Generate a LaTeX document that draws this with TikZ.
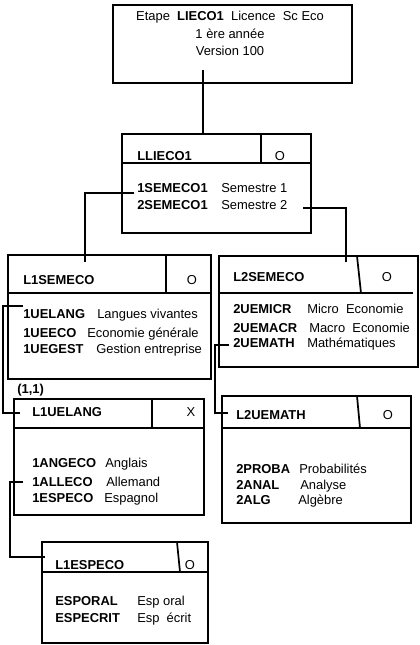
\documentclass[tikz,border=0pt]{standalone}
\usepackage{fontspec}
\setmainfont{Liberation Sans}
\begin{document}
\begin{tikzpicture}[x=0.75pt,y=-0.75pt]
\tikzset{
  frame/.style={draw=black,line width=1.3pt},
  wire/.style={draw=black,line width=1.3pt},
  txt/.style={anchor=west,inner sep=0pt,text height=7pt,text depth=0pt,font=\fontsize{9.7}{11}\selectfont},
  code/.style={txt,font=\fontsize{9.7}{11}\selectfont\bfseries},
  ctr/.style={txt,anchor=center},
}
\useasboundingbox[fill=white] (0,0) rectangle (420,645);

% ---------- top box ----------
\draw[frame] (113,5) rectangle (352,83);
\node[ctr] (t1) at (230,16) {Etape\ \ \textbf{LIECO1}\ \ Licence\ \ Sc Eco};
\node[ctr] (t2) at (230,34) {1 ère année};
\node[ctr] (t3) at (230,51) {Version 100};
\coordinate (topout) at (203,70);

% ---------- LLIECO1 ----------
\draw[frame] (122,134) rectangle (311,233);
\draw[frame] (122,163) -- (311,163);
\draw[frame] (261,134) -- (261,163);
\coordinate (llin) at (203,134);
\node[code] (ll) at (137,156) {LLIECO1};
\node[ctr] (llo) at (280,156) {O};
\node[code] (s1c) at (137,188) {1SEMECO1};
\node[txt] (s1d) at (221,188) {Semestre 1};
\node[code] (s2c) at (137,205) {2SEMECO1};
\node[txt] (s2d) at (221,205) {Semestre 2};
\coordinate (s1out) at (134,193);
\coordinate (s2out) at (303,208);

% ---------- L1SEMECO ----------
\draw[frame] (8,255) rectangle (211,379);
\draw[frame] (8,293) -- (211,293);
\draw[frame] (166,255) -- (166,293);
\coordinate (l1in) at (85,262);
\node[code] (l1) at (23,280) {L1SEMECO};
\node[ctr] (l1o) at (192,280) {O};
\node[code] (u1c) at (23,314) {1UELANG};
\node[txt] (u1d) at (97,314) {Langues vivantes};
\node[code] (u2c) at (23,333) {1UEECO};
\node[txt] (u2d) at (87,333) {Economie générale};
\node[code] (u3c) at (23,349) {1UEGEST};
\node[txt] (u3d) at (96,349) {Gestion entreprise};
\coordinate (u1out) at (23,306);

% ---------- L2SEMECO ----------
\draw[frame] (219,256) rectangle (418,367);
\draw[frame] (219,293) -- (413,293);
\draw[frame] (357,256) -- (361,293);
\coordinate (l2in) at (346,262);
\node[code] (l2) at (233,277) {L2SEMECO};
\node[ctr] (l2o) at (387,277) {O};
\node[code] (m1c) at (233,309) {2UEMICR};
\node[txt] (m1d) at (307,309) {Micro\ \ Economie};
\node[code] (m2c) at (233,328) {2UEMACR};
\node[txt] (m2d) at (309,328) {Macro\ \ Economie};
\node[code] (m3c) at (233,343) {2UEMATH};
\node[txt] (m3d) at (307,343) {Mathématiques};
\coordinate (m3out) at (229,345);

% ---------- L1UELANG ----------
\draw[frame] (14,399) rectangle (204,515);
\draw[frame] (14,428) -- (204,428);
\draw[frame] (152,399) -- (152,428);
\coordinate (lgin) at (20,413);
\node[code] (card) at (17,389) {(1,1)};
\node[code] (lg) at (32,412) {L1UELANG};
\node[ctr] (lgx) at (191,412) {X};
\node[code] (a1c) at (32,463) {1ANGECO};
\node[txt] (a1d) at (105,463) {Anglais};
\node[code] (a2c) at (32,482) {1ALLECO};
\node[txt] (a2d) at (106,482) {Allemand};
\node[code] (a3c) at (32,498) {1ESPECO};
\node[txt] (a3d) at (104,498) {Espagnol};
\coordinate (a2out) at (23,482);

% ---------- L2UEMATH ----------
\draw[frame] (222,396) rectangle (411,523);
\draw[frame] (222,428) -- (411,428);
\draw[frame] (357,396) -- (360,428);
\coordinate (mtin) at (228,413);
\node[code] (mt) at (236,415) {L2UEMATH};
\node[ctr] (mto) at (388,415) {O};
\node[code] (p1c) at (236,469) {2PROBA};
\node[txt] (p1d) at (299,469) {Probabilités};
\node[code] (p2c) at (236,485) {2ANAL};
\node[txt] (p2d) at (300,485) {Analyse};
\node[code] (p3c) at (236,500) {2ALG};
\node[txt] (p3d) at (298,500) {Algèbre};

% ---------- L1ESPECO ----------
\draw[frame] (42,542) rectangle (208,643);
\draw[frame] (42,572) -- (208,572);
\draw[frame] (177,542) -- (180,572);
\coordinate (esin) at (45,557);
\node[code] (es) at (55,565) {L1ESPECO};
\node[ctr] (eso) at (190,565) {O};
\node[code] (e1c) at (55,601) {ESPORAL};
\node[txt] (e1d) at (137,601) {Esp oral};
\node[code] (e2c) at (55,618) {ESPECRIT};
\node[txt] (e2d) at (137,618) {Esp\ \ écrit};

% ---------- connectors ----------
\draw[wire] (topout) -- (llin);
\draw[wire] (s1out) -| (l1in);
\draw[wire] (s2out) -| (l2in);
\draw[wire] (u1out) -- ++(-20,0) |- (lgin);
\draw[wire] (m3out) -- ++(-14,0) |- (mtin);
\draw[wire] (a2out) -- ++(-13,0) |- (esin);
\end{tikzpicture}
\end{document}
